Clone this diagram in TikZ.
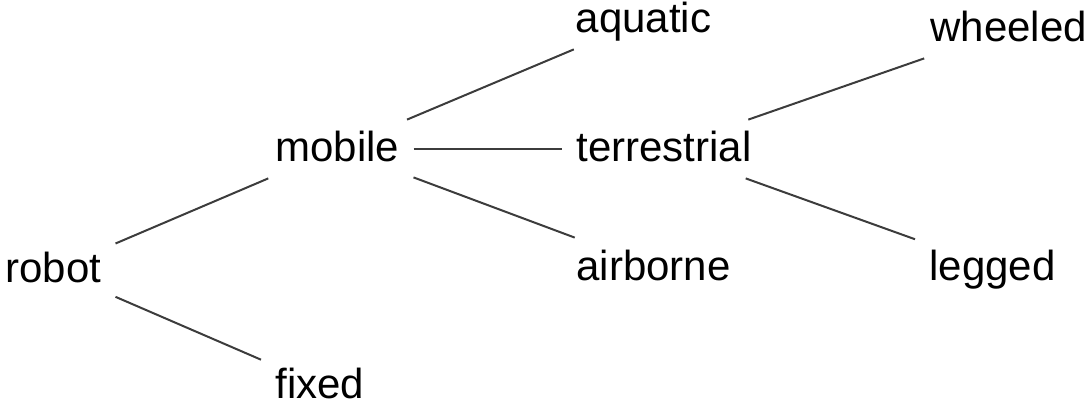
\documentclass[tikz,border=0pt]{standalone}
\usepackage{fontspec}
\setmainfont{Liberation Sans}
\definecolor{edgegray}{HTML}{3C3C3C}
\begin{document}
\begin{tikzpicture}[x=0.5pt,y=-0.5pt,
  lbl/.style={anchor=base west, inner xsep=7pt, inner ysep=5pt,
    text height=16pt, text depth=3pt,
    font=\fontsize{21}{25}\selectfont, text=black},
  edge/.style={draw=edgegray, line width=1pt}]
\useasboundingbox (0,0) rectangle (1090,405);
\node[lbl] (robot) at (-9,283) {robot};
\node[lbl] (mobile) at (261,162) {mobile};
\node[lbl] (fixed) at (261,398) {fixed};
\node[lbl] (aquatic) at (561.5,33) {aquatic};
\node[lbl] (terrestrial) at (562,162) {terrestrial};
\node[lbl] (airborne) at (562,280) {airborne};
\node[lbl] (wheeled) at (916,42) {wheeled};
\node[lbl] (legged) at (915,280) {legged};
\draw[edge] (robot) -- (mobile);
\draw[edge] (robot) -- (fixed);
\draw[edge] (mobile) -- (aquatic);
\draw[edge] (mobile) -- (terrestrial);
\draw[edge] (mobile) -- (airborne);
\draw[edge] (terrestrial) -- (wheeled);
\draw[edge] (terrestrial) -- (legged);
\end{tikzpicture}
\end{document}
